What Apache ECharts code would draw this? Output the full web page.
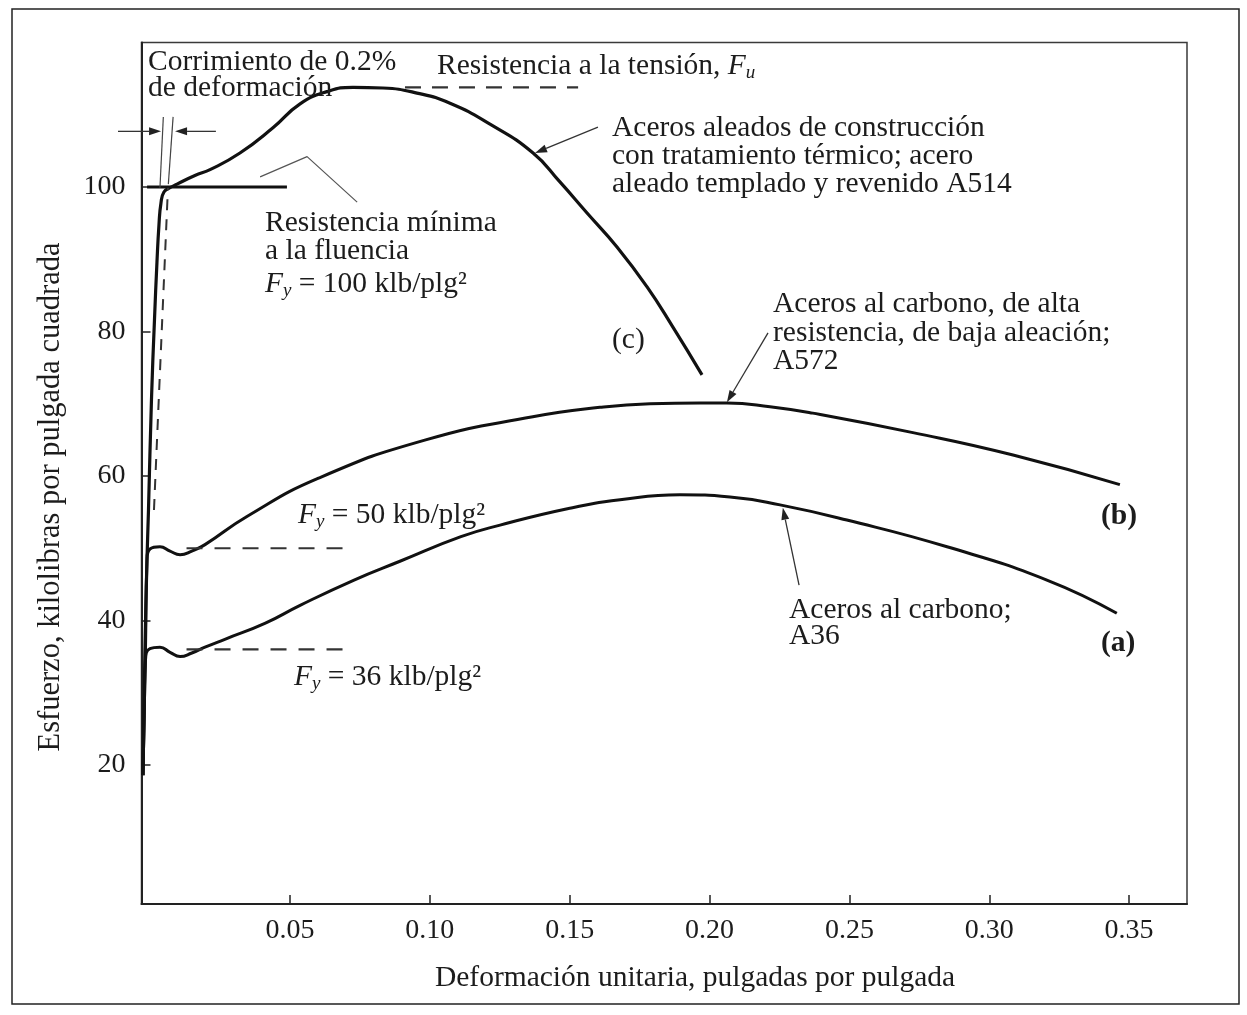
<!DOCTYPE html>
<html>
<head>
<meta charset="utf-8">
<script src="https://cdn.jsdelivr.net/npm/echarts@6/dist/echarts.min.js"></script>
<style>
  html, body { margin: 0; padding: 0; background: #fff; }
  #chart { width: 1247px; height: 1015px; }
</style>
</head>
<body>
<div id="chart"></div>
<script>
// ---- axis ticks ----
const strainTicks = [0.05, 0.10, 0.15, 0.20, 0.25, 0.30, 0.35];
const stressTicks = [20, 40, 60, 80, 100];

// ---- stress-strain curves: [strain (in/in), stress (ksi)] ----
// (a) carbon steel A36
const curveA = [
  [-0.00257, 18.6], [-0.00204, 29.0], [-0.00168, 34.5], [-0.00007, 36.1], [0.0035, 36.3],
  [0.0071, 35.6], [0.0107, 35.0], [0.0149, 35.5], [0.0196, 36.3], [0.0267, 37.4],
  [0.0410, 39.6], [0.0536, 42.1], [0.0729, 45.6], [0.0893, 48.2], [0.1111, 51.6],
  [0.1251, 53.2], [0.1496, 55.5], [0.1680, 56.7], [0.1894, 57.4], [0.2073, 57.1],
  [0.2252, 56.0], [0.2491, 53.9], [0.2849, 50.2], [0.3206, 45.6], [0.3456, 41.0]
];
// (b) high-strength low-alloy steel A572
const curveB = [
  [-0.00257, 18.6], [-0.00204, 29.0], [-0.00168, 36.0], [-0.00114, 48.4], [-0.00007, 49.9],
  [0.0035, 50.2], [0.0071, 49.6], [0.0107, 49.1], [0.0149, 49.6], [0.0196, 50.5],
  [0.0346, 54.4], [0.0602, 59.7], [0.0985, 65.0], [0.1368, 68.2], [0.1608, 69.5],
  [0.1787, 70.0], [0.1966, 70.1], [0.2062, 70.1], [0.2216, 69.6], [0.2369, 68.7],
  [0.2727, 66.0], [0.3085, 62.9], [0.3467, 58.8]
];
// (c) quenched and tempered alloy steel A514
const curveC = [
  [-0.00257, 18.6], [-0.00186, 35.9], [-0.00114, 48.4], [-0.0006, 55.3], [0.00046, 70.5],
  [0.00154, 81.6], [0.00243, 89.6], [0.00315, 94.8], [0.00386, 97.8], [0.00493, 99.3],
  [0.00708, 99.9], [0.0096, 100.4], [0.0160, 101.6], [0.0214, 102.4], [0.0321, 104.7],
  [0.0439, 108.2], [0.0536, 111.5], [0.0632, 113.2], [0.0725, 113.8], [0.0832, 113.7],
  [0.0954, 113.0], [0.1072, 111.6], [0.1215, 108.7], [0.1369, 104.7], [0.1465, 100.7],
  [0.1562, 96.4], [0.1669, 91.7], [0.1776, 86.2], [0.1869, 80.6], [0.1973, 74.0]
];

// ---- reference lines ----
const yield100 = [[-0.0011, 100], [0.0489, 100]];
const yield50 = [[0.013, 50], [0.0725, 50]];
const yield36 = [[0.013, 36], [0.0725, 36]];
const tensileFu = [[0.0911, 113.8], [0.1530, 113.8]];
const offsetLine = [[0.00136, 55.3], [0.00636, 99.9]];
const offsetMarkLeft = [[0.0035, 99.9], [0.0047, 109.7]];
const offsetMarkRight = [[0.0065, 100.4], [0.0082, 109.7]];
const leaderFy100 = [[0.0393, 101.4], [0.0561, 104.2], [0.0740, 97.9]];

// ---- pointer arrows: [fromStrain, fromStress, toStrain, toStress] ----
const arrows = [
  [0.1601, 108.3, 0.1376, 104.7],
  [0.2209, 79.8, 0.2062, 70.2],
  [0.2320, 44.9, 0.2262, 55.6],
  [-0.0115, 107.7, 0.0039, 107.7],
  [0.0235, 107.7, 0.0089, 107.7]
];

const serif = '"Liberation Serif", "Times New Roman", serif';
const ink = '#1c1c1c';
const FS = 29.5;   // annotation and axis-title size
const TFS = 28;    // tick label size

function txt(x, y, text, extra) {
  return {
    type: 'text', x: x, y: y, z: 100,
    style: Object.assign({
      text: text, fill: ink, fontFamily: serif, fontSize: FS,
      font: FS + 'px ' + serif,
      align: 'left', textAlign: 'left',
      verticalAlign: 'middle', textVerticalAlign: 'middle'
    }, extra || {})
  };
}

const richFy = {
  lineHeight: 32,
  rich: {
    n: { fontFamily: serif, fontSize: FS, fill: ink, lineHeight: 32 },
    i: { fontFamily: serif, fontSize: FS, fontStyle: 'italic', fill: ink, lineHeight: 32 },
    s: { fontFamily: serif, fontSize: 19, fontStyle: 'italic', fill: ink, lineHeight: 15, verticalAlign: 'bottom' }
  }
};

function lineSeries(data, width, type, color) {
  return {
    type: 'line', data: data, showSymbol: false, symbol: 'none', silent: true,
    clip: false, animation: false,
    lineStyle: { color: color || '#111', width: width, type: type || 'solid' },
    z: 3
  };
}

const chart = echarts.init(document.getElementById('chart'), null, { renderer: 'canvas' });

chart.setOption({
  backgroundColor: '#fff',
  animation: false,
  grid: {
    left: 141.5, right: 60, top: 42.5, bottom: 111,
    show: true, borderColor: '#3a3a3a', borderWidth: 1.5, backgroundColor: 'transparent'
  },
  xAxis: {
    type: 'value', min: -0.0031, max: 0.3707,
    axisLine: { show: true, onZero: false, lineStyle: { color: '#222', width: 2 } },
    axisTick: { show: true, inside: true, length: 9, customValues: strainTicks, lineStyle: { color: '#222', width: 1.5 } },
    axisLabel: {
      customValues: strainTicks, margin: 13,
      formatter: function (v) { return v.toFixed(2); },
      fontFamily: serif, fontSize: TFS, color: ink
    },
    splitLine: { show: false }
  },
  yAxis: {
    type: 'value', min: 0.76, max: 120,
    axisLine: { show: true, onZero: false, lineStyle: { color: '#222', width: 2 } },
    axisTick: { show: true, inside: true, length: 9, customValues: stressTicks, lineStyle: { color: '#222', width: 1.5 } },
    axisLabel: {
      customValues: stressTicks, margin: 16,
      formatter: function (v) { return String(Math.round(v)); },
      fontFamily: serif, fontSize: TFS, color: ink
    },
    splitLine: { show: false }
  },
  series: [
    Object.assign(lineSeries(curveA, 3), { smooth: 0.5 }),
    Object.assign(lineSeries(curveB, 3), { smooth: 0.5 }),
    Object.assign(lineSeries(curveC, 3.2), { smooth: 0.5 }),
    lineSeries(yield100, 3.2),
    lineSeries(yield50, 2.2, [16, 12], '#333'),
    lineSeries(yield36, 2.2, [16, 12], '#333'),
    lineSeries(tensileFu, 2.2, [16, 11], '#333'),
    lineSeries(offsetLine, 2, [11, 9], '#333'),
    lineSeries(offsetMarkLeft, 1.2, 'solid', '#444'),
    lineSeries(offsetMarkRight, 1.2, 'solid', '#444'),
    lineSeries(leaderFy100, 1.2, 'solid', '#555'),
    {
      type: 'custom', data: arrows, silent: true, clip: false, z: 4,
      encode: { x: [0, 2], y: [1, 3] },
      renderItem: function (params, api) {
        const p1 = api.coord([api.value(0), api.value(1)]);
        const p2 = api.coord([api.value(2), api.value(3)]);
        const dx = p2[0] - p1[0], dy = p2[1] - p1[1];
        const len = Math.sqrt(dx * dx + dy * dy) || 1;
        const ux = dx / len, uy = dy / len;
        const hl = 12, hw = 4;
        const bx = p2[0] - ux * hl, by = p2[1] - uy * hl;
        return {
          type: 'group',
          children: [
            { type: 'line', shape: { x1: p1[0], y1: p1[1], x2: bx, y2: by }, style: { stroke: '#333', lineWidth: 1.3 } },
            { type: 'polygon', shape: { points: [[p2[0], p2[1]], [bx - uy * hw, by + ux * hw], [bx + uy * hw, by - ux * hw]] }, style: { fill: '#222' } }
          ]
        };
      }
    }
  ],
  graphic: [
    { type: 'rect', z: 0, shape: { x: 12, y: 9, width: 1227, height: 995 }, style: { fill: 'none', stroke: '#222', lineWidth: 1.5 } },
    txt(148, 62, 'Corrimiento de 0.2%'),
    txt(148, 88, 'de deformación'),
    txt(437, 66, '{n|Resistencia a la tensión, }{i|F}{s|u}', richFy),
    txt(612, 128, 'Aceros aleados de construcción'),
    txt(612, 156, 'con tratamiento térmico; acero'),
    txt(612, 184, 'aleado templado y revenido A514'),
    txt(265, 223, 'Resistencia mínima'),
    txt(265, 251, 'a la fluencia'),
    txt(265, 284, '{i|F}{s|y}{n| = 100 klb/plg²}', richFy),
    txt(612, 340, '(c)'),
    txt(773, 304, 'Aceros al carbono, de alta'),
    txt(773, 333, 'resistencia, de baja aleación;'),
    txt(773, 361, 'A572'),
    txt(298, 515, '{i|F}{s|y}{n| = 50 klb/plg²}', richFy),
    txt(1101, 516, '(b)', { fontWeight: 'bold', font: 'bold ' + FS + 'px ' + serif }),
    txt(789, 610, 'Aceros al carbono;'),
    txt(789, 636, 'A36'),
    txt(1101, 643, '(a)', { fontWeight: 'bold', font: 'bold ' + FS + 'px ' + serif }),
    txt(294, 677, '{i|F}{s|y}{n| = 36 klb/plg²}', richFy),
    txt(695, 978, 'Deformación unitaria, pulgadas por pulgada', { align: 'center', textAlign: 'center' }),
    {
      type: 'text', x: 51, y: 497, rotation: Math.PI / 2, z: 100,
      style: {
        text: 'Esfuerzo, kilolibras por pulgada cuadrada', fill: ink,
        fontFamily: serif, fontSize: 30.5, font: '30.5px ' + serif,
        align: 'center', textAlign: 'center', verticalAlign: 'middle', textVerticalAlign: 'middle'
      }
    }
  ]
});
</script>
</body>
</html>
